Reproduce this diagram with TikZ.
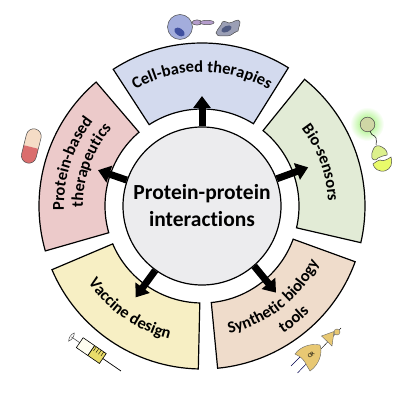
\documentclass[tikz,border=0pt]{standalone}
\usepackage{fontspec}
\setmainfont[Ligatures=NoCommon]{Carlito}
\usetikzlibrary{arrows.meta,decorations.text,shapes.geometric}
\newcommand\arcfont{\bfseries\fontsize{16.5}{16.5}\selectfont}
\definecolor{secblue}{HTML}{D3DAEE}
\definecolor{secgreen}{HTML}{E2EBD6}
\definecolor{secpink}{HTML}{ECCACA}
\definecolor{secyellow}{HTML}{F7EFC4}
\definecolor{secpeach}{HTML}{EFDCCB}
\definecolor{hubgrey}{HTML}{ECECEE}
\definecolor{orfill}{HTML}{E8C873}
\definecolor{cellblue}{HTML}{A3ADDC}
\definecolor{nucblue}{HTML}{3F4F9F}
\definecolor{rodviolet}{HTML}{B49CCB}
\definecolor{cellgrey}{HTML}{9B9FB5}
\definecolor{nucgrey}{HTML}{4F5A82}
\definecolor{sensorball}{HTML}{CFD6A5}
\definecolor{sensorA}{HTML}{DCF08C}
\definecolor{sensorB}{HTML}{E9FA6A}
\definecolor{glow}{HTML}{90F060}
\definecolor{pilltop}{HTML}{F5DCC6}
\definecolor{pillbot}{HTML}{DA6E6E}
\definecolor{syrfill}{HTML}{E9DC6A}
\tikzset{
  sector/.style={draw=black,line width=1.2pt,line join=miter},
  ppiarrow/.style={line width=7pt,-{Triangle[length=12pt,width=17pt]},black},
  arctext/.style={decorate,decoration={text along path,text align=center,text={#1}}},
  icon/.style={draw=black!70,line width=0.5pt},
}
\newcommand\sectorshape[3]{%
  \draw[sector,fill=#3] (#1:163pt) arc[start angle=#1,end angle=#2,radius=163pt]
    -- (#2:97pt) arc[start angle=#2,end angle=#1,radius=97pt] -- cycle;}
\begin{document}
\begin{tikzpicture}[x=1pt,y=1pt]
\useasboundingbox (0,0) rectangle (415,406);
\begin{scope}[shift={(202,200)}]
  \sectorshape{58}{123}{secblue}
  \sectorshape{-13}{51}{secgreen}
  \sectorshape{130.5}{196}{secpink}
  \sectorshape{203}{268.7}{secyellow}
  \sectorshape{-84.5}{-20}{secpeach}
  \node[circle,draw=black,line width=1.2pt,fill=hubgrey,minimum size=158pt,inner sep=0pt,align=center,
    font=\bfseries\fontsize{21.5}{27}\selectfont] (hub) at (0,0) {Protein-protein\\interactions};
  \coordinate (ta) at (90:110pt);
  \coordinate (tb) at (20:113pt);
  \coordinate (tc) at (161:110pt);
  \coordinate (td) at (234:113pt);
  \coordinate (te) at (-49.5:114pt);
  \draw[ppiarrow] (hub.90) -- (ta);
  \draw[ppiarrow] (hub.20) -- (tb);
  \draw[ppiarrow] (hub.161) -- (tc);
  \draw[ppiarrow] (hub.234) -- (td);
  \draw[ppiarrow] (hub.-49.5) -- (te);
  % curved labels
  \path[arctext={|\arcfont|Cell-based therapies}] (135:134pt) arc[start angle=135,end angle=45,radius=134pt];
  \path[arctext={|\arcfont|Bio-sensors}] (60:126pt) arc[start angle=60,end angle=-20,radius=126pt];
  \path[arctext={|\arcfont|Protein-based}] (200:138pt) arc[start angle=200,end angle=124,radius=138pt];
  \path[arctext={|\arcfont|therapeutics}] (205:119pt) arc[start angle=205,end angle=115,radius=119pt];
  \path[arctext={|\arcfont|Vaccine design}] (195:137pt) arc[start angle=195,end angle=275,radius=137pt];
  \path[arctext={|\arcfont|Synthetic biology}] (-97:130pt) arc[start angle=-97,end angle=-7,radius=130pt];
  \path[arctext={|\arcfont|tools}] (-90:151pt) arc[start angle=-90,end angle=-12,radius=151pt];
\end{scope}
% icons, in image coordinates
\begin{scope}[shift={(0,406)},y=-1pt]
  % cells
  \fill[icon,fill=cellblue] (180,27) circle (12.5);
  \fill[fill=nucblue] (179.5,32) ellipse [x radius=5.8,y radius=3.5,rotate=-35];
  \draw[icon,fill=rodviolet] (197,22.5) ellipse [x radius=5,y radius=2.6];
  \draw[icon,fill=rodviolet] (207,22.5) ellipse [x radius=7,y radius=2.2];
  \draw[icon,fill=cellgrey] (216,33) .. controls (218,28) and (220,27) .. (221,25)
     .. controls (222,19) and (226,22) .. (229,23) .. controls (233,23) and (239,17) .. (240,22)
     .. controls (240,26) and (238,28) .. (238,31) .. controls (232,33) and (232,36) .. (227,36)
     .. controls (222,35) and (218,38) .. (216,33) -- cycle;
  \fill[nucgrey] (226.5,29) ellipse [x radius=5.5,y radius=3,rotate=25];
  % bio-sensor
  \shade[inner color=glow,outer color=white] (367,124) circle (17);
  \draw[icon,fill=sensorball] (367.5,124.5) circle (7.3);
  \draw[black,line width=0.5pt] (370,131) .. controls (372,137) and (374,134) .. (376,138) .. controls (377,140) and (376,143) .. (376,145);
  \draw[icon,fill=sensorA] (373,150) .. controls (374,145) and (379,145) .. (382,147)
     .. controls (386,149) and (388,153) .. (387,155) .. controls (384,156) and (381,156) .. (378,158)
     .. controls (377,160) and (373,161) .. (372,158) .. controls (371,155) and (372,152) .. (373,150) -- cycle;
  \draw[icon,fill=sensorB] (373,164) .. controls (376,162) and (378,160) .. (380,160)
     .. controls (383,162) and (388,159) .. (391,157) .. controls (393,163) and (391,169) .. (385,171)
     .. controls (379,172) and (374,169) .. (373,164) -- cycle;
  % capsule
  \begin{scope}[shift={(31.3,146)},rotate=-14]
    \begin{scope}
      \clip[rounded corners=7.49pt] (-7.5,-17.5) rectangle (7.5,17.5);
      \fill[pilltop] (-8,-18) rectangle (8,1);
      \fill[pillbot] (-8,1) rectangle (8,18);
    \end{scope}
    \draw[icon,rounded corners=7.49pt] (-7.5,-17.5) rectangle (7.5,17.5);
  \end{scope}
  % syringe
  \begin{scope}[shift={(71.5,337)},rotate=-34.5]
    \draw[black!70,line width=0.5pt,fill=white] (0,-5) .. controls (-2,-2) and (-2,2) .. (0,5) .. controls (2,2) and (2,-2) .. (0,-5);
    \draw[black!70,line width=0.6pt] (0,0) -- (10,0);
    \draw[black,line width=0.6pt,fill=yellow!6!white] (10,-6) rectangle (24,6);
    \draw[black,line width=0.6pt,fill=syrfill] (24,-6) rectangle (38,6);
    \draw[black,line width=0.7pt] (38,0) -- (60,0);
    \foreach \tickx in {26,29,32,35} \draw[black,line width=0.4pt] (\tickx,-6) -- (\tickx,-1);
  \end{scope}
  % OR gate
  \coordinate (orA) at (291,366);
  \coordinate (orB) at (297.5,373);
  \draw[black!70!blue,line width=0.5pt] (orA) -- (302,355);
  \draw[black!70!blue,line width=0.5pt] (orB) -- (308,362);
  \draw[black,line width=0.4pt] (320,350) -- (341,328);
  \draw[black!60,line width=0.4pt,fill=orfill] (295,354) .. controls (300,347) and (310,343) .. (320,345)
     .. controls (323,353) and (319,365) .. (310,371)
     .. controls (306,366) and (306,359) .. (295,354) -- cycle;
  \node[rotate=45,font=\fontsize{6}{6}\selectfont,inner sep=0pt] (orlabel) at (311,355) {OR};
  \draw[black!60,line width=0.4pt,fill=orfill] (321.5,336) -- (334,331.5) -- (332,346) -- cycle;
  \draw[black!60,line width=0.4pt,fill=orfill] (337,332) circle (3);
\end{scope}
\end{tikzpicture}
\end{document}
